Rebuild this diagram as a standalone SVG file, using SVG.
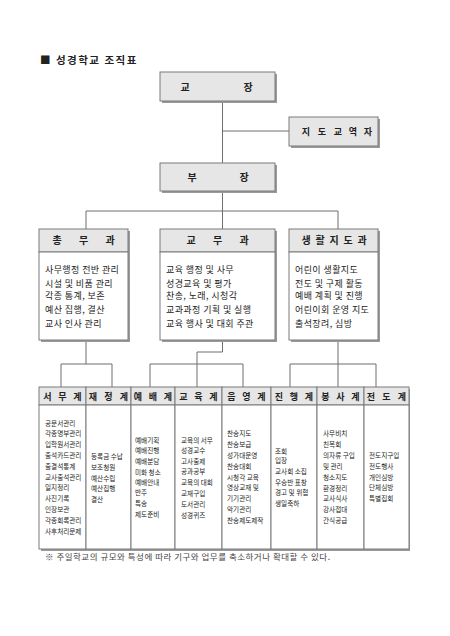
<svg xmlns="http://www.w3.org/2000/svg" width="450" height="636" viewBox="0 0 450 636">
<style>
text{font-family:"Noto Sans CJK KR","Noto Sans",sans-serif;fill:#222}
.hd{fill:#e6e6e6;stroke:#7a7a7a;stroke-width:1}
.bd{fill:#fff;stroke:#7a7a7a;stroke-width:1}
.sh{fill:#9a9a9a}
.ht{font-size:10px;font-weight:700;text-anchor:middle}
.st{font-size:9px;font-weight:700;text-anchor:middle}
.it{font-size:9px;letter-spacing:0.4px}
.sm{font-size:6.6px;fill:#333}
.ln{fill:none;stroke:#6f6f6f;stroke-width:1}
</style>
<rect width="450" height="636" fill="#fff"/>
<text x="40" y="64" style="font-size:10.5px;font-weight:700;letter-spacing:1.5px">■ 성경학교 조직표</text>

<g id="connectors" class="ln">
<path d="M222.5 101V163M222.5 131H289"/>
<path d="M222.5 191V211M86 211H338M86 211V229M222.5 211V229M338 211V229"/>
<path d="M86 340V364M61 364H112M61 364V387M112 364V387"/>
<path d="M222.5 340V352H197V387M150 364H243M150 364V387M243 364V387"/>
<path d="M338 340V387M290 364H376M290 364V387M376 364V387"/>
</g>

<g id="principal">
<rect class="sh" x="162" y="74" width="115" height="29"/>
<rect class="hd" x="160" y="72" width="115" height="29"/>
<text class="ht" x="185 248" y="90.5">교장</text>
</g>
<g id="pastor">
<rect class="sh" x="291" y="119" width="89" height="29"/>
<rect class="hd" x="289" y="117" width="89" height="29"/>
<text class="st" x="306 322 338 353 368" y="134.5">지도교역자</text>
</g>
<g id="vice">
<rect class="sh" x="162" y="165" width="115" height="28"/>
<rect class="hd" x="160" y="163" width="115" height="28"/>
<text class="ht" x="192 244" y="180.5">부장</text>
</g>

<g id="general">
<rect class="sh" x="41" y="231" width="89" height="111"/>
<rect class="hd" x="39" y="229" width="89" height="23"/>
<rect class="bd" x="39" y="252" width="89" height="88"/>
<text class="ht" x="57 83.5 110" y="244">총무과</text>
<text class="it" x="45" y="273">사무행정 전반 관리</text>
<text class="it" x="45" y="286.5">시설 및 비품 관리</text>
<text class="it" x="45" y="299">각종 통계, 보존</text>
<text class="it" x="45" y="312.5">예산 집행, 결산</text>
<text class="it" x="45" y="327">교사 인사 관리</text>
</g>
<g id="academic">
<rect class="sh" x="162" y="231" width="115" height="111"/>
<rect class="hd" x="160" y="229" width="115" height="23"/>
<rect class="bd" x="160" y="252" width="115" height="88"/>
<text class="ht" x="191 217.5 244" y="244">교무과</text>
<text class="it" x="166" y="273">교육 행정 및 사무</text>
<text class="it" x="166" y="286.5">성경교육 및 평가</text>
<text class="it" x="166" y="299">찬송, 노래, 시청각</text>
<text class="it" x="166" y="312.5">교과과정 기획 및 실행</text>
<text class="it" x="166" y="327">교육 행사 및 대회 주관</text>
</g>
<g id="life">
<rect class="sh" x="291" y="231" width="89" height="111"/>
<rect class="hd" x="289" y="229" width="89" height="23"/>
<rect class="bd" x="289" y="252" width="89" height="88"/>
<text class="ht" x="306 320 334 348 362" y="244">생활지도과</text>
<text class="it" x="295" y="273">어린이 생활지도</text>
<text class="it" x="295" y="286.5">전도 및 구제 활동</text>
<text class="it" x="295" y="299">예배 계획 및 진행</text>
<text class="it" x="295" y="312.5">어린이회 운영 지도</text>
<text class="it" x="295" y="327">출석장려, 심방</text>
</g>

<rect class="sh" x="41" y="389" width="369" height="162"/>

<g id="seomu">
<rect class="hd" x="39" y="387" width="47" height="18"/>
<rect class="bd" x="39" y="405" width="47" height="144"/>
<text class="st" x="47.5 62.5 77.5" y="399.5">서무계</text>
<g class="sm">
<text x="45" y="425.5">공문서관리</text>
<text x="45" y="436.3">각종명부관리</text>
<text x="45" y="447.1">입학원서관리</text>
<text x="45" y="457.9">출석카드관리</text>
<text x="45" y="468.7">출결석통계</text>
<text x="45" y="479.5">교사출석관리</text>
<text x="45" y="490.3">일지정리</text>
<text x="45" y="501.1">사진기록</text>
<text x="45" y="511.9">인장보관</text>
<text x="45" y="522.7">각종회록관리</text>
<text x="45" y="533.5">사후처리문제</text>
</g>
</g>
<g id="jaejeong">
<rect class="hd" x="86" y="387" width="45" height="18"/>
<rect class="bd" x="86" y="405" width="45" height="144"/>
<text class="st" x="93 108.5 124" y="399.5">재정계</text>
<g class="sm">
<text x="91" y="458.5">등록금 수납</text>
<text x="91" y="469.5">보조청원</text>
<text x="91" y="480.5">예산수립</text>
<text x="91" y="491">예산집행</text>
<text x="91" y="502">결산</text>
</g>
</g>
<g id="yebae">
<rect class="hd" x="131" y="387" width="44" height="18"/>
<rect class="bd" x="131" y="405" width="44" height="144"/>
<text class="st" x="138 153 168" y="399.5">예배계</text>
<g class="sm">
<text x="135" y="442.5">예배기획</text>
<text x="135" y="453">예배진행</text>
<text x="135" y="463.5">예배분담</text>
<text x="135" y="474.5">미화 청소</text>
<text x="135" y="485">예배안내</text>
<text x="135" y="495">반주</text>
<text x="135" y="505.5">특송</text>
<text x="135" y="517">제도준비</text>
</g>
</g>
<g id="gyoyuk">
<rect class="hd" x="175" y="387" width="47" height="18"/>
<rect class="bd" x="175" y="405" width="47" height="144"/>
<text class="st" x="183.5 198.5 213.5" y="399.5">교육계</text>
<g class="sm">
<text x="181" y="442.5">교육의 서무</text>
<text x="181" y="453">성경교수</text>
<text x="181" y="463.5">고사출제</text>
<text x="181" y="474">공과공부</text>
<text x="181" y="484.5">교육의 대회</text>
<text x="181" y="495.5">교재구입</text>
<text x="181" y="506.5">도서관리</text>
<text x="181" y="518">성경퀴즈</text>
</g>
</g>
<g id="eumak">
<rect class="hd" x="222" y="387" width="49" height="18"/>
<rect class="bd" x="222" y="405" width="49" height="144"/>
<text class="st" x="231.5 246.5 261.5" y="399.5">음영계</text>
<g class="sm">
<text x="227" y="435.5">찬송지도</text>
<text x="227" y="446.5">찬송보급</text>
<text x="227" y="457.5">성가대운영</text>
<text x="227" y="468.5">찬송대회</text>
<text x="227" y="479.5">시청각 교육</text>
<text x="227" y="489.5">영상교재 및</text>
<text x="227" y="500.5">기기관리</text>
<text x="227" y="511.5">악기관리</text>
<text x="227" y="522.5">찬송제도제작</text>
</g>
</g>
<g id="jinhaeng">
<rect class="hd" x="271" y="387" width="46" height="18"/>
<rect class="bd" x="271" y="405" width="46" height="144"/>
<text class="st" x="279 294 309" y="399.5">진행계</text>
<g class="sm">
<text x="275" y="453.5">조회</text>
<text x="275" y="462.5">입장</text>
<text x="275" y="473.5">교사회 소집</text>
<text x="275" y="484.5">우승반 표창</text>
<text x="275" y="494.5">경고 및 위협</text>
<text x="275" y="505.5">생일축하</text>
</g>
</g>
<g id="bongsa">
<rect class="hd" x="317" y="387" width="47" height="18"/>
<rect class="bd" x="317" y="405" width="47" height="144"/>
<text class="st" x="325.5 340.5 355.5" y="399.5">봉사계</text>
<g class="sm">
<text x="323" y="435.5">사무비치</text>
<text x="323" y="446.5">친목회</text>
<text x="323" y="457.5">의자류 구입</text>
<text x="323" y="468.5">및 관리</text>
<text x="323" y="479.5">청소지도</text>
<text x="323" y="490.5">환경정리</text>
<text x="323" y="500.5">교사식사</text>
<text x="323" y="511.5">강사접대</text>
<text x="323" y="522.5">간식공급</text>
</g>
</g>
<g id="jeondo">
<rect class="hd" x="364" y="387" width="45" height="18"/>
<rect class="bd" x="364" y="405" width="45" height="144"/>
<text class="st" x="371 386.5 402" y="399.5">전도계</text>
<g class="sm">
<text x="369" y="457.5">전도지구입</text>
<text x="369" y="468.5">전도행사</text>
<text x="369" y="479.5">개인심방</text>
<text x="369" y="489.5">단체심방</text>
<text x="369" y="500.5">특별집회</text>
</g>
</g>

<text x="45" y="560" style="font-size:8.5px;letter-spacing:0.5px;fill:#444">※ 주일학교의 규모와 특성에 따라 기구와 업무를 축소하거나 확대할 수 있다.</text>
</svg>
